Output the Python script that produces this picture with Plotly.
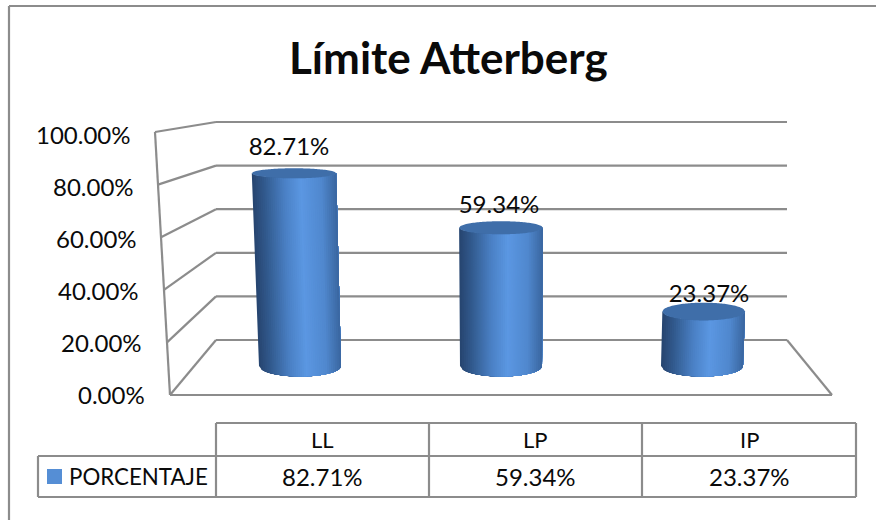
import plotly.graph_objects as go

categories = ["LL", "LP", "IP"]
values = [82.71, 59.34, 23.37]
series_name = "PORCENTAJE"
axis_ticks = [0, 20, 40, 60, 80, 100]
title_text = "Límite Atterberg"

W, H = 876, 520
FONT = "Lato"
GRID = "#8c8c8c"
TXT = "#0a0a0a"

def yrange(y0, k):
    return [(y0 - H) / k, y0 / k]

def xrange_(x0, k):
    return [-x0 / k, (W - x0) / k]

def px(x): return x / W
def py(y): return 1 - y / H

# front-plane projections
CYL_Y0, CYL_K = 366, 2.33
HW, PERSP, VANISH = 0.204, 0.00036, 1.0
STOPS = [(0, (38, 68, 110)), (0.15, (50, 90, 142)), (0.38, (74, 128, 196)),
         (0.58, (91, 151, 226)), (0.82, (80, 136, 206)), (1, (58, 102, 160))]

def grad(t):
    for (a, ca), (b, cb) in zip(STOPS, STOPS[1:]):
        if a <= t <= b:
            f = (t - a) / (b - a)
            return "rgb(%d,%d,%d)" % tuple(round(p + (q - p) * f) for p, q in zip(ca, cb))
    return "rgb(58,102,160)"

def semi_top(v):
    return (10.4 - 0.065 * v) / CYL_K

SEMI_BOT = 10.5 / CYL_K

def sx(i, t, v):
    return VANISH + (i + t * HW - VANISH) * (1 + PERSP * v)

def curve(t):
    return max(0.0, 1 - t * t) ** 0.5

fig = go.Figure()
N = 42
NOLINE = dict(width=0, simplify=False)
for i, v in enumerate(values):
    st = semi_top(v)
    for k in range(N):
        t0 = -1 + 2 * k / N
        # each strip runs on to the right edge, so the next one paints over it and no seam shows
        t1 = 1.0
        ts = [t0 + (t1 - t0) * j / 24 for j in range(25)]
        xs = [sx(i, t, 0) for t in ts] + [sx(i, t, v) for t in reversed(ts)]
        ys = [-SEMI_BOT * curve(t) for t in ts] + [v - st * curve(t) for t in reversed(ts)]
        xs.append(xs[0]); ys.append(ys[0])
        c = grad((k + 0.5) / N)
        fig.add_trace(go.Scatter(x=xs, y=ys, mode="lines", fill="toself", fillcolor=c,
                                 line=NOLINE, hoverinfo="skip", showlegend=False))
    ts = [-1 + 2 * k / 60 for k in range(61)]
    xs = [sx(i, t, v) for t in ts] + [sx(i, t, v) for t in reversed(ts)]
    ys = [v + st * curve(t) for t in ts] + [v - st * curve(t) for t in reversed(ts)]
    fig.add_trace(go.Scatter(x=xs, y=ys, mode="lines", fill="toself", fillcolor="#3f6ea9",
                             line=NOLINE, hoverinfo="skip", showlegend=False))

# data labels
fig.add_trace(go.Scatter(x=list(range(len(categories))), y=values, mode="text",
                         text=[f"{v:.2f}%" for v in values], textposition="middle center",
                         textfont=dict(family=FONT, size=24, color=TXT),
                         xaxis="x2", yaxis="y2", hoverinfo="skip", showlegend=False))

shapes = []
def line(x0, y0, x1, y1, xref="paper", yref="paper", w=2.2, c=GRID):
    shapes.append(dict(type="line", x0=x0, y0=y0, x1=x1, y1=y1, xref=xref, yref=yref,
                       line=dict(color=c, width=w), layer="below"))

def pline(a, b, c, d, w=2.2):
    line(px(a), py(b), px(c), py(d), w=w)

BACK_Y0, BACK_K = 340, 2.18
FRONT_Y0, FRONT_K = 395, 2.63
front_x = lambda v: 170 - 0.15 * v
for v in axis_ticks:
    line(px(216), v, px(787), v, yref="y3")
    pline(front_x(v), FRONT_Y0 - FRONT_K * v, 216, BACK_Y0 - BACK_K * v)
pline(front_x(0), FRONT_Y0, front_x(100), FRONT_Y0 - FRONT_K * 100)
pline(170, 395, 832, 395)
pline(832, 395, 787, 340)

# outer frame
pline(9, 6, 876, 6)
pline(9, 6, 9, 520)

# data table
COLS = [216, 429, 642, 856]
ROWS = [423, 456, 497]
for x in COLS:
    pline(x, ROWS[0], x, ROWS[2])
pline(COLS[0], ROWS[0], COLS[3], ROWS[0])
pline(38, ROWS[1], COLS[3], ROWS[1])
pline(38, ROWS[2], COLS[3], ROWS[2])
pline(38, ROWS[1], 38, ROWS[2])
shapes.append(dict(type="rect", xref="paper", yref="paper", x0=px(47), x1=px(62), y0=py(484), y1=py(469),
                   fillcolor="#558ed5", line=dict(width=0), layer="below"))

ann = []
def text(x, y, s, size=22, anchor="center", weight="normal", yref="paper"):
    ann.append(dict(x=x, y=y, xref="paper", yref=yref, text=s, showarrow=False, xanchor=anchor,
                    yanchor="middle", align=anchor,
                    font=dict(family=FONT, size=size, color=TXT, weight=weight)))

text(px(448), py(57), title_text, size=44, weight="bold")
for t in axis_ticks:
    text(px(147 - 0.14 * t), t, f"{t:.2f}%", size=24, anchor="right", yref="y4")
for i, (c, v) in enumerate(zip(categories, values)):
    cx = (COLS[i] + COLS[i + 1]) / 2
    text(px(cx), py(439), c)
    text(px(cx), py(476), f"{v:.2f}%", size=24)
text(px(67), py(476), series_name, size=22.3, anchor="left")

hidden = dict(visible=False, showgrid=False, zeroline=False, fixedrange=True)
fig.update_layout(
    width=W, height=H, margin=dict(l=0, r=0, t=0, b=0),
    paper_bgcolor="white", plot_bgcolor="white", showlegend=False,
    shapes=shapes, annotations=ann,
    xaxis=dict(range=xrange_(300, 201), domain=[0, 1], **hidden),
    yaxis=dict(range=yrange(CYL_Y0, CYL_K), domain=[0, 1], **hidden),
    xaxis2=dict(range=xrange_(289, 210), overlaying="x", domain=[0, 1], anchor="y2", **hidden),
    yaxis2=dict(range=yrange(354, 2.477), overlaying="y", domain=[0, 1], anchor="x2", **hidden),
    yaxis3=dict(range=yrange(BACK_Y0, BACK_K), overlaying="y", domain=[0, 1], anchor="x", **hidden),
    yaxis4=dict(range=yrange(394, 2.6), overlaying="y", domain=[0, 1], anchor="x", **hidden),
)
fig.write_html("out.html", config=dict(displayModeBar=False),
               post_script="document.body.style.margin='0';document.body.style.overflow='hidden';")
